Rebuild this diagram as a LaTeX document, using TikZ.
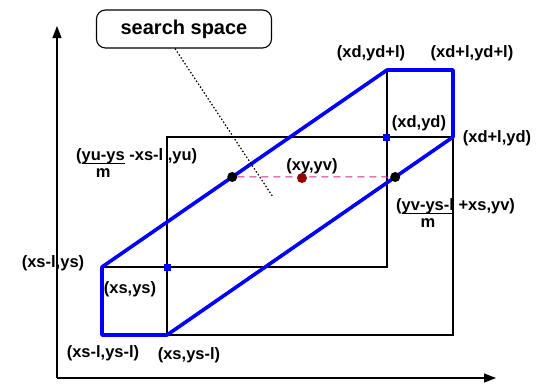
\documentclass[tikz,border=0pt]{standalone}
\usepackage{fontspec}
\setmainfont{Liberation Sans}
\usetikzlibrary{arrows.meta,calc}
\begin{document}
\begin{tikzpicture}[x=1pt,y=-1pt,
  lbl/.style={font=\fontsize{16.5}{18}\selectfont\bfseries, inner sep=0pt},
  axis/.style={line width=1.2pt, -{Triangle[length=12pt,width=9pt]}},
  grid/.style={line width=1.1pt, black},
  region/.style={line width=3.6pt, blue, line join=round},
  bdot/.style={circle, fill=black, inner sep=0pt, minimum size=10pt},
  sq/.style={rectangle, fill=blue, inner sep=0pt, minimum size=7pt},
  rdot/.style={circle, fill=red!60!black, inner sep=0pt, minimum size=10pt}]
\useasboundingbox (0,0) rectangle (539,384);
% axes
\coordinate (O) at (57,378);
\coordinate (Ytop) at (57,26);
\coordinate (Xend) at (496,378);
\draw[axis] (O) -- (Ytop);
\draw[axis] (O) -- (Xend);
% key points
\coordinate (A) at (102,267);
\coordinate (B) at (102,335);
\coordinate (C) at (167,335);
\coordinate (D) at (453,137);
\coordinate (E) at (453,70);
\coordinate (F) at (387,70);
\coordinate (H) at (167,137);
\coordinate (I) at (387,267);
\coordinate (J) at (453,335);
% black rectangles
\draw[grid] (C) -- (H) -- (D) -- (J) -- (B);
\draw[grid] (F) -- (I) -- (A);
% blue search region
\draw[region] (A) -- (B) -- (C) -- (D) -- (E) -- (F) -- cycle;
% corner squares
\node[sq] (S) at (167,267) {};
\node[sq] (G) at (386,137) {};
% intersection points
\node[bdot] (L) at ($(A)!0.457!(F)$) {};
\node[bdot] (R) at ($(C)!0.798!(D)$) {};
\draw[magenta!80!black, line width=1pt, dash pattern=on 7pt off 5pt] (L) -- (R);
\node[rdot] (V) at (302,178) {};
% search space box
\node[draw, line width=1.1pt, rounded corners=9pt, minimum width=175pt, minimum height=38pt,
  font=\fontsize{20}{22}\selectfont\bfseries] (box) at (184,29) {search space};
\coordinate (P) at (273,197);
\draw[line width=1.2pt, dash pattern=on 1.5pt off 2pt] ($(box.south)+(-9,0)$) -- (P);
% labels
\node[lbl] (l1) at (371,53) {(xd,yd+l)};
\node[lbl] (l2) at (472,53) {(xd+l,yd+l)};
\node[lbl] (l3) at (419,123) {(xd,yd)};
\node[lbl] (l4) at (497,138) {(xd+l,yd)};
\node[lbl] (l5) at (312,166) {(xy,yv)};
\node[lbl, anchor=base west] (l6) at (76,160) {(\begin{tabular}[t]{@{}c@{}}yu-ys\\[-2pt]\hline\rule{0pt}{14pt}m\end{tabular} -xs-l ,yu)};
\node[lbl, anchor=base west] (l7) at (396,210) {(\begin{tabular}[t]{@{}c@{}}yv-ys-l\\[-2pt]\hline\rule{0pt}{14pt}m\end{tabular} +xs,yv)};
\node[lbl] (l8) at (53,263) {(xs-l,ys)};
\node[lbl] (l9) at (130,289) {(xs,ys)};
\node[lbl] (l10) at (103,353) {(xs-l,ys-l)};
\node[lbl] (l11) at (189,355) {(xs,ys-l)};
\end{tikzpicture}
\end{document}
